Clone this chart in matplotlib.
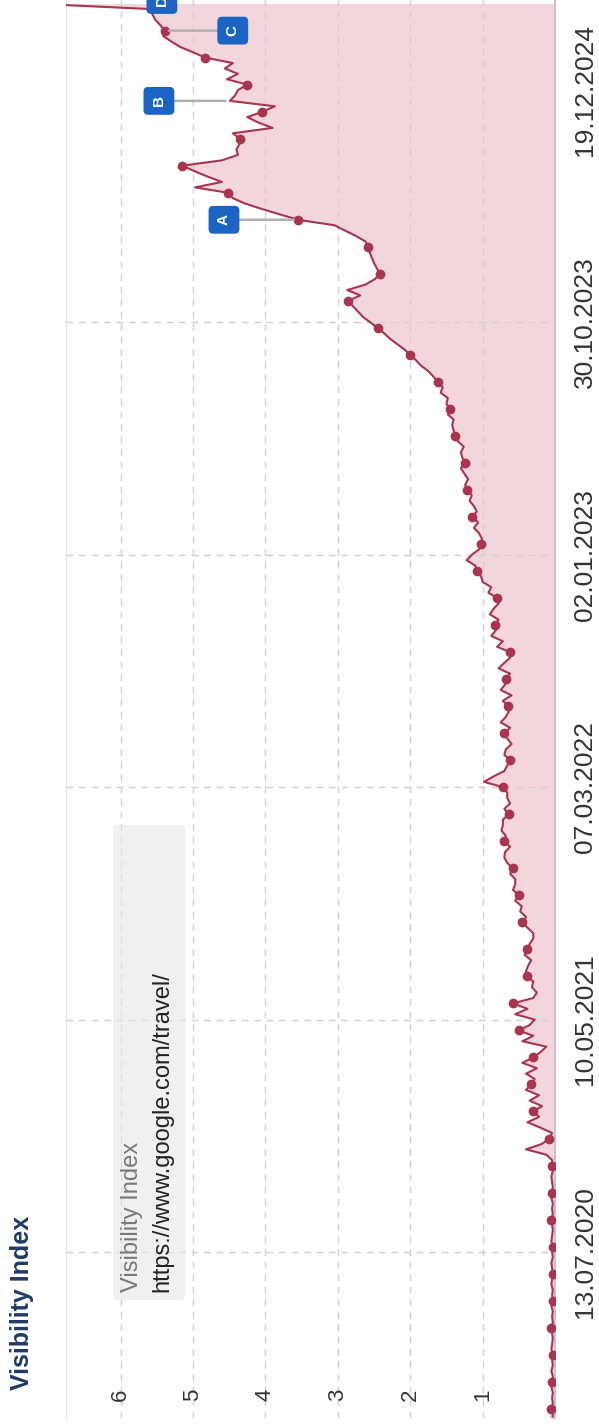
import matplotlib
matplotlib.use('Agg')
import matplotlib.pyplot as plt
import matplotlib.transforms as mtransforms
from matplotlib.patches import FancyBboxPatch
import pandas as pd

plt.rcParams['font.family'] = ['Liberation Sans', 'DejaVu Sans']

# weekly visibility index, first week starts Monday 09.12.2019
start_week = '2019-12-09'
visibility = [
    0.04, 0.03, 0.05, 0.03, 0.04, 0.03, 0.05, 0.04, 0.03, 0.05,
    0.03, 0.04, 0.03, 0.05, 0.04, 0.03, 0.04, 0.05, 0.03, 0.04,
    0.03, 0.05, 0.03, 0.04, 0.03, 0.05, 0.04, 0.03, 0.04, 0.05,
    0.03, 0.04, 0.03, 0.05, 0.04, 0.03, 0.04, 0.05, 0.03, 0.04,
    0.03, 0.05, 0.04, 0.03, 0.04, 0.05, 0.03, 0.04,
    0.04, 0.12, 0.40, 0.18, 0.08, 0.04, 0.20, 0.38, 0.22, 0.30,
    0.18, 0.35, 0.22, 0.40, 0.33, 0.28, 0.40, 0.25, 0.45, 0.30,
    0.20, 0.12, 0.45, 0.30, 0.50, 0.35, 0.28, 0.55, 0.38, 0.58,
    0.30, 0.25, 0.32, 0.30, 0.38, 0.40, 0.37, 0.33, 0.42, 0.38,
    0.35, 0.30, 0.30, 0.38, 0.45, 0.40, 0.48, 0.46, 0.55, 0.50,
    0.58, 0.55, 0.55, 0.62, 0.58, 0.66, 0.70, 0.69, 0.62, 0.70,
    0.68, 0.74, 0.72, 0.72, 0.64, 0.70, 0.62, 0.66, 0.66, 0.72,
    0.98, 0.85, 0.70, 0.66, 0.62, 0.70, 0.68, 0.60, 0.66, 0.70,
    0.62, 0.75, 0.68, 0.64, 0.65, 0.72, 0.60, 0.75, 0.69, 0.68,
    0.62, 0.78, 0.70, 0.62, 0.62, 0.80, 0.72, 0.88, 0.82, 0.83,
    0.78, 0.90, 0.85, 0.78, 0.80, 0.92, 0.88, 1.00, 1.02, 1.08,
    1.10, 1.22, 1.15, 1.05, 1.02, 1.01, 1.05, 1.12, 1.06, 1.15,
    1.08,
    1.12, 1.18, 1.15, 1.22, 1.24, 1.20, 1.25, 1.30, 1.24, 1.28,
    1.30, 1.26, 1.34, 1.38, 1.40, 1.42, 1.40, 1.48, 1.45, 1.50,
    1.48, 1.58, 1.55, 1.62, 1.68, 1.75, 1.85, 1.92, 2.00, 2.08,
    2.18, 2.28, 2.36, 2.45, 2.55, 2.65, 2.72, 2.79, 2.86, 2.69,
    2.87, 2.62, 2.49, 2.42, 2.46, 2.50, 2.53, 2.56, 2.58, 2.62,
    2.75, 2.90, 3.05, 3.55, 3.80, 4.05, 4.28, 4.45, 4.52, 4.97,
    4.60, 4.80, 4.98, 5.15, 4.60, 4.38, 4.40, 4.36, 4.35, 4.45,
    3.90, 4.10, 4.25, 4.04, 3.87, 4.49, 4.42, 4.38, 4.25, 4.53,
    4.38, 4.56, 4.45, 4.83, 5.00, 5.18, 5.30, 5.41, 5.39, 5.45,
    5.52, 5.56, 5.60, 7.20,
]

value_ticks = [1, 2, 3, 4, 5, 6]
date_ticks = ['2020-07-13', '2021-05-10', '2022-03-07', '2023-01-02', '2023-10-30']
date_labels = ['13.07.2020', '10.05.2021', '07.03.2022', '02.01.2023', '30.10.2023']
end_label = '19.12.2024'

event_labels = ['A', 'B', 'C']
event_dates = ['2024-03-11', '2024-08-12', '2024-11-11']

title = 'Visibility Index'
legend_name = 'Visibility Index'
site = 'https://www.google.com/travel/'

line_col = '#a8344e'
fill_col = '#f3d5dc'
grid_col = '#d0d0d0'
badge_col = '#1b64c4'
txt_col = '#333333'

W, H = 599, 1424
dates = pd.date_range(start_week, periods=len(visibility), freq='7D')
series = pd.Series(visibility, index=dates)

fig = plt.figure(figsize=(W / 100, H / 100), dpi=100)
# chart is drawn turned by 90 degrees: time runs upwards, values grow to the left
ax = fig.add_axes([66 / W, 6 / H, 489 / W, 1418 / H])

ax.fill_betweenx(dates, 0, visibility, color=fill_col, lw=0, zorder=1)
ax.plot(visibility, dates, color=line_col, lw=1.5, marker='o', ms=6,
        markevery=(2, 5), zorder=3)

ax.set_xlim(6.754, 0)
ax.set_ylim(pd.Timestamp('2019-12-11'), pd.Timestamp('2024-12-20 16:00'))

ax.set_xticks(value_ticks)
ax.set_yticks(pd.to_datetime(date_ticks))
ax.set_yticklabels(date_labels)
ax.grid(True, color=grid_col, ls=(0, (5, 4)), lw=1)
ax.tick_params(axis='x', length=0, labelbottom=False)
ax.yaxis.tick_right()
ax.tick_params(axis='y', length=0, labelsize=19, labelcolor=txt_col, pad=13,
               labelrotation=90)
for lbl in ax.get_yticklabels():
    lbl.set_va('center')

for side in ['top', 'bottom']:
    ax.spines[side].set_visible(False)
ax.spines['left'].set_color('#e4e4e4')
ax.spines['right'].set_color('#cbbcc8')
ax.spines['right'].set_linewidth(1.3)

# value labels sit inside the plot, at its start
for v in value_ticks:
    ax.text(v, 0.0162, str(v), transform=ax.get_xaxis_transform(), rotation=90,
            ha='center', va='center', fontsize=16, color=txt_col)

# last date label pulled inside the chart end
end_tr = mtransforms.offset_copy(ax.transAxes, fig=fig, x=13, units='points')
ax.text(1.0, 1 - 90 / 1418, end_label, transform=end_tr, rotation=90,
        ha='left', va='center', fontsize=19, color=txt_col)

fig.text(22 / W, 1 - 1390 / H, title, rotation=90, ha='center', va='bottom',
         fontsize=18, fontweight='bold', color='#1f3b66')

# legend box
box = FancyBboxPatch((113, H - 1300), 72, 475,
                     boxstyle='round,pad=0,rounding_size=5',
                     transform=mtransforms.IdentityTransform(),
                     fc='#e6e6e6', ec='none', alpha=0.6, zorder=2)
fig.add_artist(box)
fig.text(132 / W, 1 - 1292 / H, legend_name, rotation=90, ha='center',
         va='bottom', fontsize=17, color='#777777')
fig.text(162 / W, 1 - 1292 / H, site, rotation=90, ha='center',
         va='bottom', fontsize=17, color='#222222')

badge = dict(boxstyle='round,pad=0.55,rounding_size=0.3', fc=badge_col, ec='none')
shift = {'A': -74, 'B': -71, 'C': 68}
for lab, d in zip(event_labels, event_dates):
    t = pd.Timestamp(d)
    ax.annotate(lab, xy=(series[t], t), xytext=(shift[lab], 0),
                textcoords='offset pixels', rotation=90, ha='center', va='center',
                color='white', fontsize=11, fontweight='bold', bbox=badge,
                arrowprops=dict(arrowstyle='-', color='#b0b0b0', lw=1.8,
                                shrinkA=0, shrinkB=3),
                zorder=5)

ax.text(5.43, 1.0, 'D', transform=ax.get_xaxis_transform(), rotation=90,
        ha='center', va='center', color='white', fontsize=11, fontweight='bold',
        bbox=badge, clip_on=False, zorder=5)

fig.savefig('out.png', dpi=100)
